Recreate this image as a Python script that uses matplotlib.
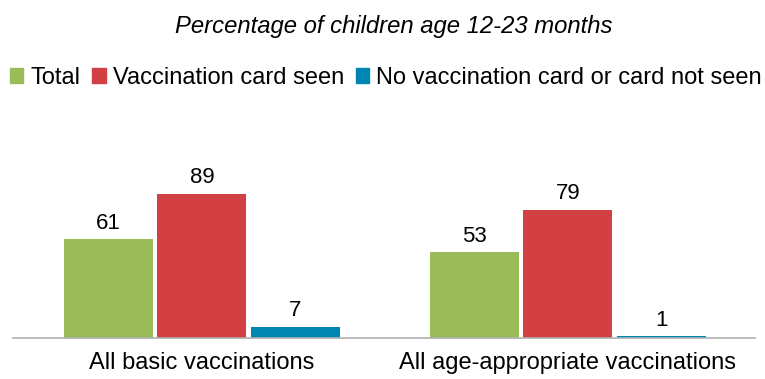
import numpy as np
import matplotlib.pyplot as plt
from matplotlib.patches import Patch

plt.rcParams['font.family'] = ['Liberation Sans', 'DejaVu Sans']

categories = ["All basic vaccinations", "All age-appropriate vaccinations"]
series_names = ["Total", "Vaccination card seen", "No vaccination card or card not seen"]
total = [61, 53]
card_seen = [89, 79]
no_card = [7, 1]
colors = ["#9bbb59", "#d24044", "#0086b0"]

fig = plt.figure(figsize=(7.65, 3.79), dpi=100)
ax = fig.add_axes([13 / 765, 41 / 379, 742 / 765, 218 / 379])

x = np.arange(len(categories))
width = 0.243
offsets = [-0.2555, 0, 0.2555]
for vals, off, col in zip([total, card_seen, no_card], offsets, colors):
    bars = ax.bar(x + off, vals, width, color=col)
    for b, v in zip(bars, vals):
        ax.text(b.get_x() + b.get_width() / 2, v + 3.5, str(v),
                ha='center', va='bottom', fontsize=16)

ax.set_xlim(-0.516, 1.511)
ax.set_ylim(0, 134.7)
ax.set_yticks([])
ax.set_xticks(x)
ax.set_xticklabels(categories, fontsize=17)
ax.tick_params(axis='x', length=0, pad=10)
for s in ['top', 'right', 'left']:
    ax.spines[s].set_visible(False)
ax.spines['bottom'].set_color('#b0b0b0')
ax.spines['bottom'].set_linewidth(1.2)

fig.text(394 / 765, 1 - 27 / 379, "Percentage of children age 12-23 months",
         ha='center', va='center', fontsize=17.2, style='italic')

handles = [Patch(color=c) for c in colors]
fig.legend(handles, series_names, loc='center', bbox_to_anchor=(386 / 765, 1 - 78 / 379),
           ncol=3, frameon=False, fontsize=17, handlelength=0.57, handleheight=0.57,
           handletextpad=0.3, columnspacing=0.5, borderpad=0)

fig.savefig("out.png", dpi=100)
